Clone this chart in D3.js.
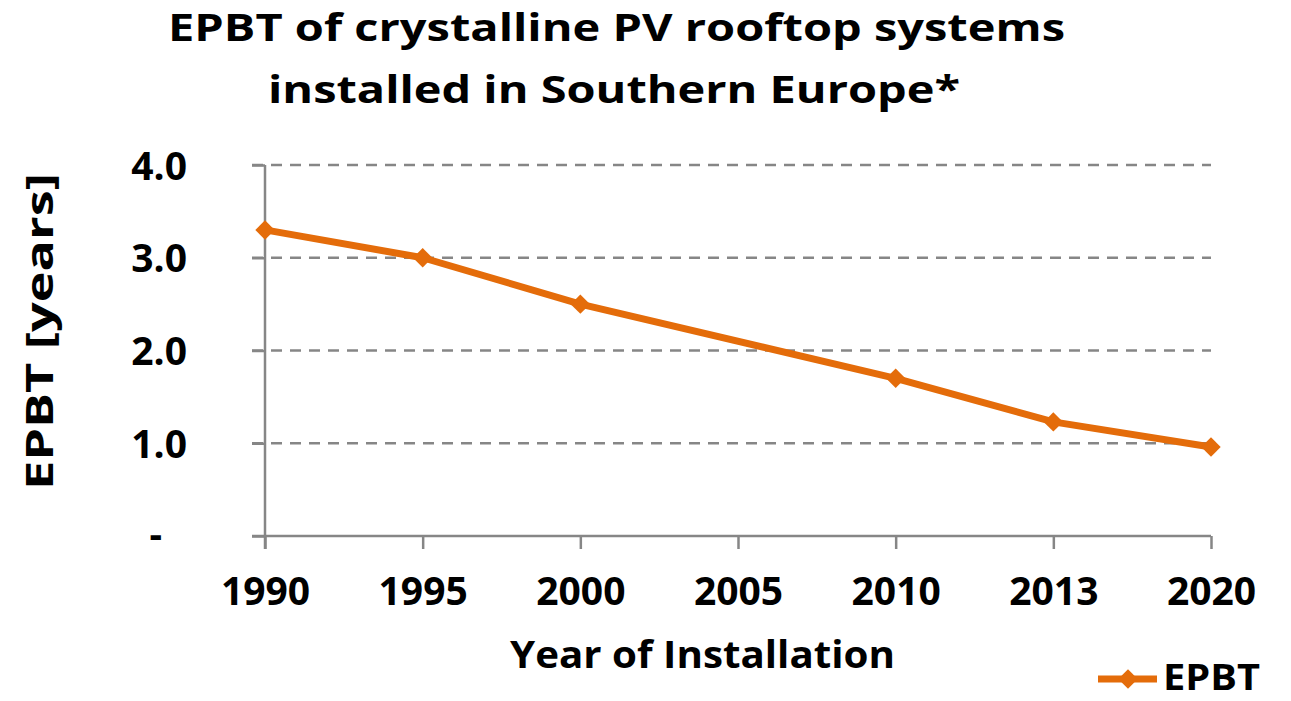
<!DOCTYPE html>
<html>
<head>
<meta charset="utf-8">
<script src="https://cdn.jsdelivr.net/npm/d3@7"></script>
<style>
  body { margin: 0; background: #fff; }
  text { font-family: "Open Sans", "Noto Sans", sans-serif; font-weight: bold; fill: #000; }
</style>
</head>
<body>
<div id="main"></div>
<script>
// chart data
const years = ["1990", "1995", "2000", "2005", "2010", "2013", "2020"]
const epbt = [3.3, 3.0, 2.5, null, 1.7, 1.23, 0.96]   // 2005 has no value
const yTicks = [0, 1, 2, 3, 4]
const titleLines = ["EPBT of crystalline PV rooftop systems", "installed in Southern Europe*"]

function drawChart() {
    let margin = {top: 165, right: 80, bottom: 165, left: 265}
    let W = 1291, H = 701

    let svg = d3.select("#main").append("svg")
        .attr("width", W)
        .attr("height", H)
    let g = svg.append("g")
        .attr("transform", `translate(${margin.left} ${margin.top})`)

    let scX = d3.scalePoint().domain(years).range([0, 946]).padding(0)
    let scY = d3.scaleLinear().domain([0, 4]).range([371, 0])
    let orange = "#E46C0A", grey = "#868686"

    // dashed gridlines
    g.append("g").selectAll("line").data(yTicks.filter(d => d > 0)).enter()
        .append("line")
        .attr("x1", -13).attr("x2", scX("2020"))
        .attr("y1", d => scY(d)).attr("y2", d => scY(d))
        .attr("stroke", grey).attr("stroke-width", 2.5)
        .attr("stroke-dasharray", "11 8")

    // y axis
    let yAxis = d3.axisLeft(scY).tickValues(yTicks).tickSize(13).tickPadding(0)
        .tickFormat(d => d === 0 ? "-" : d3.format(".1f")(d))
    let gy = g.append("g").call(yAxis)
    gy.select(".domain").remove()
    gy.selectAll("line").attr("stroke", grey).attr("stroke-width", 2.5)
    gy.selectAll("text").attr("x", -78).attr("dy", "0.36em")
        .style("font-size", "39px")
    gy.selectAll("text").filter(d => d === 0).attr("x", -103).attr("dy", "0.3em")
    g.append("line")
        .attr("x1", 0).attr("x2", 0)
        .attr("y1", scY(4)).attr("y2", scY(0) + 13)
        .attr("stroke", grey).attr("stroke-width", 2.5)

    // x axis
    let xAxis = d3.axisBottom(scX).tickSize(13).tickPadding(0).tickSizeOuter(0)
    let gx = g.append("g").attr("transform", `translate(0, ${scY(0)})`).call(xAxis)
    gx.select(".domain").remove()
    gx.selectAll("line").attr("stroke", grey).attr("stroke-width", 2.5)
    gx.selectAll("text").attr("y", 69).attr("dy", 0)
        .style("font-size", "39px")
    g.append("line")
        .attr("x1", -13).attr("x2", scX("2020"))
        .attr("y1", scY(0)).attr("y2", scY(0))
        .attr("stroke", grey).attr("stroke-width", 2.5)

    // the series
    let pts = years.map((y, i) => ({year: y, v: epbt[i]})).filter(d => d.v !== null)
    let makeLine = d3.line()
        .x(d => scX(d.year))
        .y(d => scY(d.v))
    g.append("path")
        .attr("d", makeLine(pts))
        .attr("fill", "none")
        .attr("stroke", orange)
        .attr("stroke-width", 7)
        .attr("stroke-linejoin", "round")
    let diamond = d3.symbol().type(d3.symbolDiamond2).size(240)
    g.selectAll(".mark").data(pts).enter()
        .append("path")
        .attr("class", "mark")
        .attr("d", diamond)
        .attr("transform", d => `translate(${scX(d.year)} ${scY(d.v)})`)
        .attr("fill", orange)

    // titles
    svg.selectAll(".title").data(titleLines).enter()
        .append("text")
        .attr("class", "title")
        .attr("x", (d, i) => i === 0 ? 168 : 268)
        .attr("y", (d, i) => i === 0 ? 41 : 103)
        .attr("textLength", (d, i) => i === 0 ? 897 : 692)
        .attr("lengthAdjust", "spacingAndGlyphs")
        .style("font-size", "37px")
        .text(d => d)

    svg.append("text")
        .attr("x", 510).attr("y", 668)
        .attr("textLength", 385).attr("lengthAdjust", "spacingAndGlyphs")
        .style("font-size", "38px")
        .text("Year of Installation")

    svg.append("text")
        .attr("transform", "translate(53 490) rotate(-90)")
        .attr("textLength", 317).attr("lengthAdjust", "spacingAndGlyphs")
        .style("font-size", "38px")
        .text("EPBT [years]")

    // legend
    let lg = svg.append("g").attr("transform", "translate(1098 679)")
    lg.append("line").attr("x1", 0).attr("x2", 59)
        .attr("stroke", orange).attr("stroke-width", 7)
    lg.append("path").attr("d", diamond).attr("transform", "translate(30 0)")
        .attr("fill", orange)
    lg.append("text").attr("x", 65).attr("y", 11)
        .attr("textLength", 97).attr("lengthAdjust", "spacingAndGlyphs")
        .style("font-size", "36px")
        .text("EPBT")
}
drawChart()
</script>
</body>
</html>
